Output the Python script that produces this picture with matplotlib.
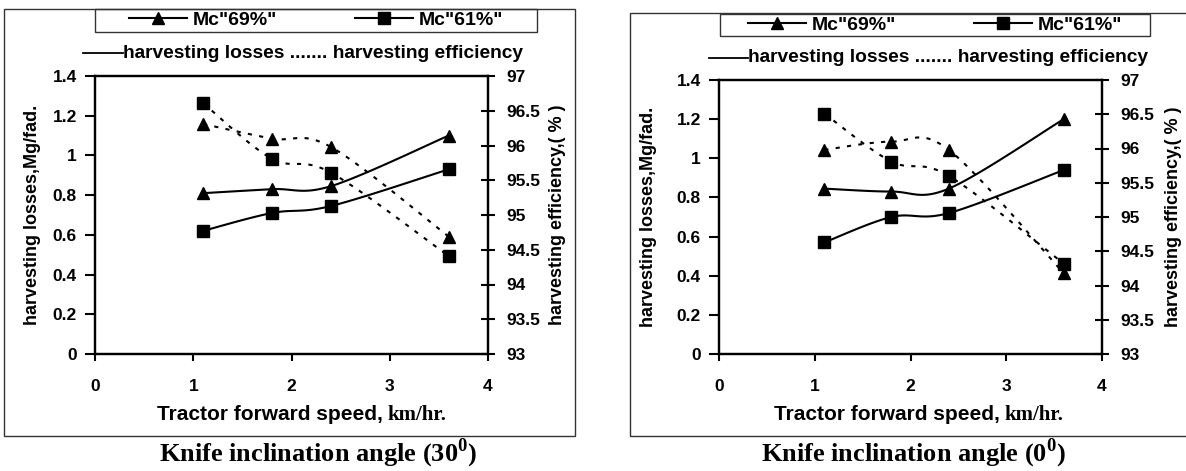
import numpy as np
import matplotlib
import matplotlib.pyplot as plt
from matplotlib.lines import Line2D
from matplotlib.patches import Rectangle

matplotlib.use("agg")

plt.rcParams["font.family"] = ["Liberation Sans", "DejaVu Sans"]
plt.rcParams["font.weight"] = "bold"
plt.rcParams["mathtext.fontset"] = "custom"
plt.rcParams["mathtext.rm"] = "Liberation Serif:bold"
plt.rcParams["mathtext.bf"] = "Liberation Serif:bold"

# data
speed = [1.1, 1.8, 2.4, 3.6]

losses_69_30 = [0.81, 0.83, 0.845, 1.10]
losses_61_30 = [0.62, 0.71, 0.745, 0.93]
eff_69_30 = [96.31, 96.10, 95.98, 94.69]
eff_61_30 = [96.61, 95.81, 95.61, 94.41]

losses_69_0 = [0.845, 0.83, 0.845, 1.20]
losses_61_0 = [0.57, 0.70, 0.72, 0.94]
eff_69_0 = [95.98, 96.10, 95.98, 94.18]
eff_61_0 = [96.51, 95.81, 95.60, 94.32]

series_labels = ['Mc"69%"', 'Mc"61%"']
x_ticks = [0, 1, 2, 3, 4]
loss_ticks = [0, 0.2, 0.4, 0.6, 0.8, 1, 1.2, 1.4]
eff_ticks = [93, 93.5, 94, 94.5, 95, 95.5, 96, 96.5, 97]

W, H = 1186, 471


def fx(x):
    return x / W


def fy(y):
    return 1 - y / H


def smooth(x, y, sx, sy, y0=0.0, n=40):
    # excel-like smoothed line (bezier through the points)
    p = np.column_stack([np.asarray(x) * sx, (np.asarray(y) - y0) * sy])
    pts = np.vstack([p[0], p, p[-1]])
    t = np.linspace(0, 1, n)[:, None]
    out = []
    for i in range(1, len(pts) - 2):
        p0, p1, p2, p3 = pts[i - 1], pts[i], pts[i + 1], pts[i + 2]
        c1 = p1 + (p2 - p0) / 6
        c2 = p2 - (p3 - p1) / 6
        out.append((1 - t) ** 3 * p1 + 3 * (1 - t) ** 2 * t * c1
                   + 3 * (1 - t) * t ** 2 * c2 + t ** 3 * p2)
    s = np.vstack(out)
    return s[:, 0] / sx, s[:, 1] / sy + y0


def draw_panel(fig, box, frame, leg_box, sub_y, sub_line, title_x,
               xlab_split, ylab_x, loss69, loss61, eff69, eff61, title):
    l, t, r, b = box
    ax = fig.add_axes([fx(l), fy(b), fx(r - l), (b - t) / H])
    ax2 = ax.twinx()
    sx, sy = (r - l) / 4, (b - t) / 1.4
    sy2 = (b - t) / 4.0

    for vals, m in [(loss69, "^"), (loss61, "s")]:
        xs, ys = smooth(speed, vals, sx, sy)
        ax.plot(xs, ys, color="black", lw=1.5)
        ax.plot(speed, vals, ls="none", marker=m, ms=8.5, color="black")
    for vals, m in [(eff69, "^"), (eff61, "s")]:
        xs, ys = smooth(speed, vals, sx, sy2, y0=93)
        ax2.plot(xs, ys, color="black", lw=1.5, ls=(0, (2, 3.5)))
        ax2.plot(speed, vals, ls="none", marker=m, ms=8.5, color="black")

    ax.set_xlim(0, 4)
    ax.set_ylim(0, 1.4)
    ax2.set_ylim(93, 97)
    ax.set_xticks(x_ticks)
    ax.set_xticklabels([str(v) for v in x_ticks])
    ax.set_yticks(loss_ticks)
    ax.set_yticklabels([f"{v:g}" for v in loss_ticks])
    ax2.set_yticks(eff_ticks)
    ax2.set_yticklabels([f"{v:g}" for v in eff_ticks])
    ax.tick_params(axis="x", direction="out", length=5, width=1.5, pad=13, labelsize=12.5)
    ax.tick_params(axis="y", direction="out", length=7, width=1.5, pad=6, labelsize=12.5)
    ax2.tick_params(axis="y", direction="inout", length=10, width=1.5, pad=8, labelsize=12.5)
    for a in (ax, ax2):
        for sp in a.spines.values():
            sp.set_linewidth(1.6)

    # outer frame and legend box
    fl, ft, fr, fb = frame
    fig.add_artist(Rectangle((fx(fl), fy(fb)), fx(fr - fl), (fb - ft) / H,
                             transform=fig.transFigure, fill=False,
                             edgecolor="#333333", lw=1.0))
    ll, lt, lr, lb = leg_box
    fig.add_artist(Rectangle((fx(ll), fy(lb)), fx(lr - ll), (lb - lt) / H,
                             transform=fig.transFigure, fill=False,
                             edgecolor="#333333", lw=1.0))
    handles = [Line2D([], [], color="black", lw=1.5, marker="^", ms=8),
               Line2D([], [], color="black", lw=1.5, marker="s", ms=8)]
    fig.legend(handles, series_labels, loc="center", ncol=2, frameon=False,
               bbox_to_anchor=(fx((ll + lr) / 2), fy((lt + lb) / 2)),
               prop={"size": 14, "weight": "bold"}, handlelength=3.0,
               handletextpad=0.3, columnspacing=4.0, borderaxespad=0, borderpad=0)

    # line-style note under the legend
    fig.add_artist(Line2D([fx(sub_line[0]), fx(sub_line[1])], [fy(sub_y), fy(sub_y)],
                          transform=fig.transFigure, color="black", lw=1.3))
    fig.text(fx(sub_line[1]), fy(sub_y), "harvesting losses ....... harvesting efficiency",
             ha="left", va="center", fontsize=13.8, fontweight="bold")

    # axis labels
    fig.text(fx(ylab_x[0]), fy((t + b) / 2), "harvesting losses,Mg/fad.",
             rotation=90, ha="center", va="center", fontsize=13, fontweight="bold")
    fig.text(fx(ylab_x[1]), fy((t + b) / 2), "harvesting efficiency,( % )",
             rotation=90, ha="center", va="center", fontsize=13, fontweight="bold")
    fig.text(fx(xlab_split), fy(415), "Tractor forward speed,", ha="right",
             va="center", fontsize=15, fontweight="bold")
    fig.text(fx(xlab_split + 4), fy(415), "km/hr.", ha="left", va="center",
             fontsize=15, fontweight="bold", family="Liberation Serif")

    fig.text(fx(title_x), fy(453), title, ha="center", va="center",
             fontsize=19, fontweight="bold", family="Liberation Serif")


def __main():
    fig = plt.figure(figsize=(W / 100, H / 100), dpi=100)

    draw_panel(fig, box=(95, 76, 488, 354), frame=(4, 9, 575, 436),
               leg_box=(95, 9, 537, 32), sub_y=53, sub_line=(83, 123),
               title_x=318, xlab_split=383, ylab_x=(33, 558),
               loss69=losses_69_30, loss61=losses_61_30,
               eff69=eff_69_30, eff61=eff_61_30,
               title=r"Knife inclination angle (30$^{\mathbf{0}}$)")

    draw_panel(fig, box=(719, 80, 1102, 354), frame=(630, 13, 1192, 436),
               leg_box=(720, 14, 1150, 36), sub_y=58, sub_line=(709, 748),
               title_x=913, xlab_split=1000, ylab_x=(649, 1173),
               loss69=losses_69_0, loss61=losses_61_0,
               eff69=eff_69_0, eff61=eff_61_0,
               title=r"Knife inclination angle (0$^{\mathbf{0}}$)")

    fig.savefig("out.png", dpi=100)


if __name__ == "__main__":
    __main()
